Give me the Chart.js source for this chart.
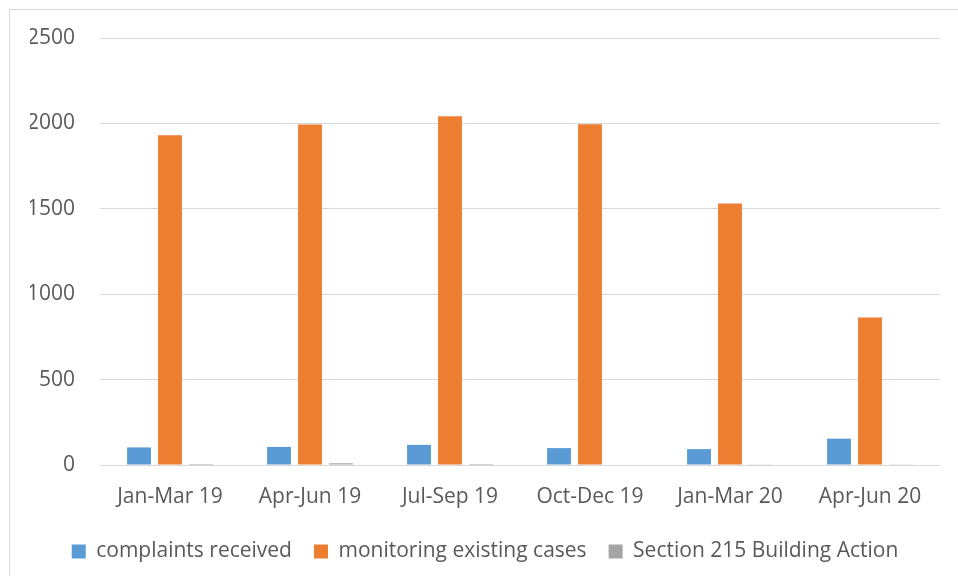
<!DOCTYPE html>
<html>
<head>
<meta charset="utf-8">
<script src="https://cdn.jsdelivr.net/npm/chart.js@4/dist/chart.umd.min.js"></script>
<style>
  html, body { margin: 0; padding: 0; background: #fff; }
  #wrap { position: absolute; left: 0; top: 0; width: 958px; height: 576px; }
  #frame { position: absolute; left: 9px; top: 9px; width: 1000px; height: 700px; border: 1px solid #d9d9d9; box-sizing: border-box; }
</style>
</head>
<body>
<div id="frame"></div>
<div id="wrap"><canvas id="bar-chart" width="958" height="576"></canvas></div>
<script>
// quarters shown on the x axis
var quarters = ['Jan-Mar 19', 'Apr-Jun 19', 'Jul-Sep 19', 'Oct-Dec 19', 'Jan-Mar 20', 'Apr-Jun 20'];

// values
var complaints = [103, 106, 118, 99, 93, 154];
var monitoring = [1930, 1993, 2042, 1995, 1531, 864];
var section215 = [6, 10, 6, 3, 2, 4];

var yTicks = [0, 500, 1000, 1500, 2000, 2500];

var font = "'Open Sans', 'DejaVu Sans', sans-serif";
var textColor = '#595959';
var gridColor = '#d9d9d9';

var ctx = document.getElementById('bar-chart');
var chart = new Chart(ctx, {
    type: 'bar',
    data: {
        labels: quarters,
        datasets: [{
            label: 'complaints received',
            backgroundColor: '#5b9bd5',
            data: complaints
        }, {
            label: 'monitoring existing cases',
            backgroundColor: '#ed7d31',
            data: monitoring
        }, {
            label: 'Section 215 Building Action',
            backgroundColor: '#a5a5a5',
            data: section215
        }]
    },
    options: {
        responsive: false,
        animation: false,
        devicePixelRatio: 1,
        categoryPercentage: 0.664,
        barPercentage: 0.77,
        layout: {
            padding: { left: 30, right: 18, top: 38, bottom: 4 }
        },
        plugins: {
            tooltip: { enabled: false },
            legend: {
                position: 'bottom',
                labels: {
                    boxWidth: 14,
                    boxHeight: 14,
                    padding: 22,
                    color: textColor,
                    font: { family: font, size: 21 }
                }
            }
        },
        scales: {
            x: {
                grid: { display: false, drawTicks: false },
                border: { color: gridColor, width: 1 },
                afterFit: function(scale) { scale.height = 54; },
                ticks: {
                    color: textColor,
                    padding: 19,
                    font: { family: font, size: 21 }
                }
            },
            y: {
                min: 0,
                max: 2500,
                afterBuildTicks: function(scale) {
                    scale.ticks = yTicks.map(function(v) { return { value: v }; });
                },
                afterFit: function(scale) { scale.width = 70; },
                grid: { color: gridColor, lineWidth: 1, drawTicks: false },
                border: { display: false },
                ticks: {
                    color: textColor,
                    padding: 25,
                    font: { family: font, size: 21 },
                    callback: function(v) { return String(v); }
                }
            }
        }
    }
});
</script>
</body>
</html>
